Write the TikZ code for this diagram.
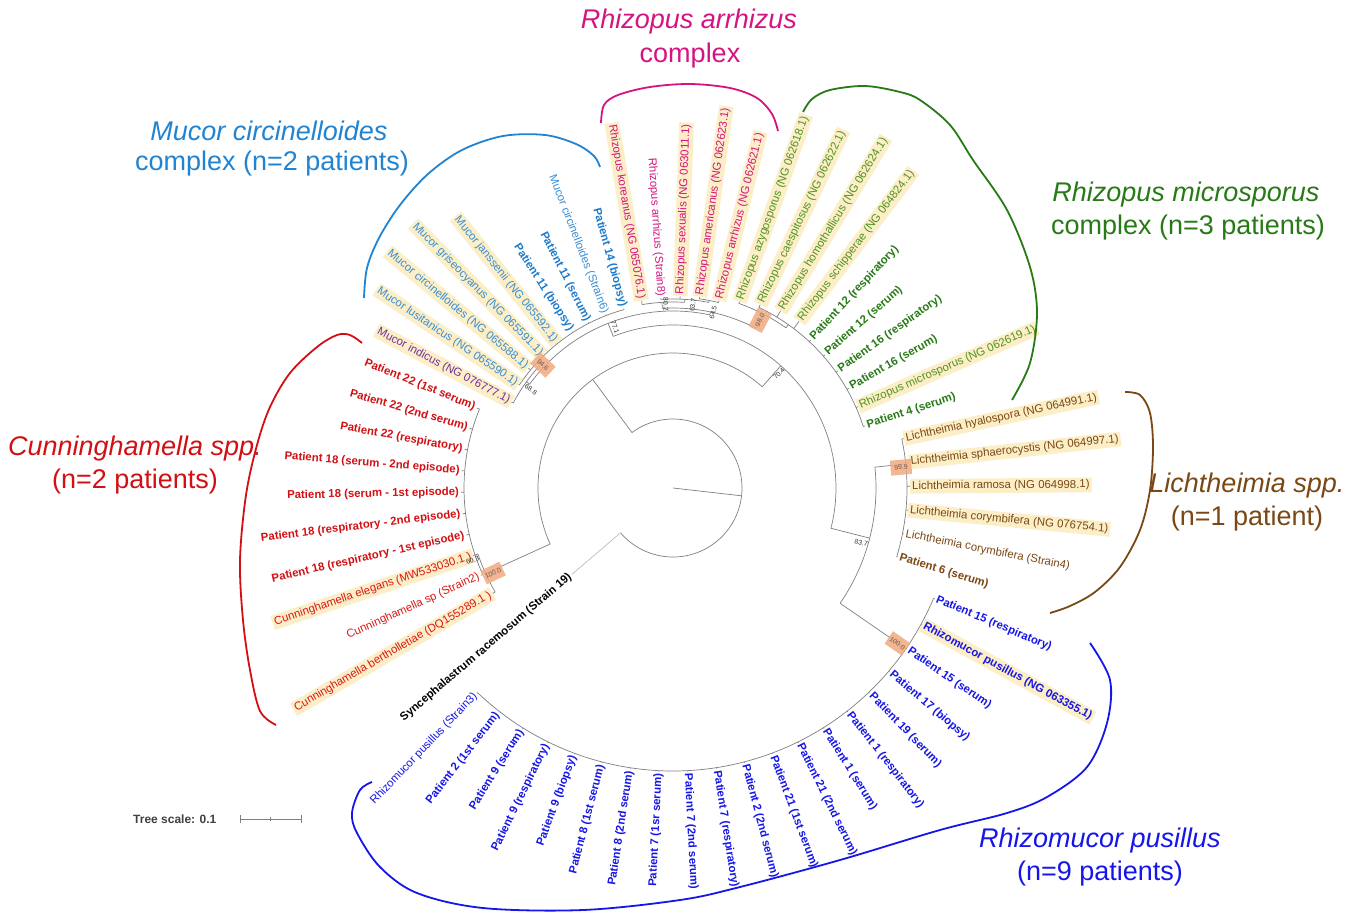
\documentclass[tikz,border=0pt]{standalone}
\usepackage{fontspec}
\setmainfont{Liberation Sans}
\definecolor{tr}{RGB}{128,128,128}
\definecolor{trl}{RGB}{190,190,190}
\definecolor{hlc}{RGB}{252,238,198}
\definecolor{bsc}{RGB}{241,170,128}
\definecolor{bst}{RGB}{110,90,80}
\definecolor{cunc}{RGB}{218,24,24}
\definecolor{cunb}{RGB}{210,16,20}
\definecolor{mucc}{RGB}{32,132,210}
\definecolor{mucsp}{RGB}{56,142,212}
\definecolor{mucpat}{RGB}{28,122,204}
\definecolor{mindc}{RGB}{112,48,160}
\definecolor{rarc}{RGB}{212,20,128}
\definecolor{rmsp}{RGB}{80,146,36}
\definecolor{rmpat}{RGB}{40,122,22}
\definecolor{licc}{RGB}{122,72,20}
\definecolor{rzc}{RGB}{22,22,232}
\tikzset{
  br/.style={draw=tr, line width=0.7pt},
  brl/.style={draw=trl, line width=0.7pt},
  lab/.style={font=\fontsize{11.4}{13}\selectfont, inner xsep=2pt, inner ysep=2pt},
  bfl/.style={font=\fontsize{11.4}{13}\selectfont\bfseries},
  hl/.style={fill=hlc},
  cun/.style={text=cunc},
  cunB/.style={text=cunb, bfl},
  muc/.style={text=mucsp},
  mucP/.style={text=mucpat, bfl},
  mind/.style={text=mindc},
  rar/.style={text=rarc},
  rms/.style={text=rmsp},
  rmP/.style={text=rmpat, bfl},
  lic/.style={text=licc},
  licP/.style={text=licc, bfl},
  rz/.style={text=rzc},
  rzP/.style={text=rzc, bfl},
  syn/.style={text=black, bfl},
  bsv/.style={font=\fontsize{6.8}{7}\selectfont, text=black!80, inner sep=0.5pt},
  bsb/.style={fill=bsc, fill opacity=0.85, text opacity=1, text=bst, minimum width=21pt, minimum height=15pt, inner sep=0pt, font=\fontsize{6.8}{7}\selectfont},
  cl/.style={font=\fontsize{27}{33}\selectfont, inner sep=0pt},
  cli/.style={font=\fontsize{27}{33}\selectfont\itshape, inner sep=0pt},
  brk/.style={line width=1.8pt, smooth, tension=0.55},
}
\newcommand\myrotfor[1]{%
  \pgfmathsetmacro\mycos{cos(#1)}%
  \ifdim\mycos pt<0pt \pgfmathsetmacro\myrot{#1+180}\def\myanc{east}%
  \else \pgfmathsetmacro\myrot{#1}\def\myanc{west}\fi}
\newcommand\myleaf[6]{%
  \pgfmathsetmacro\myang{210.3-5.83*#1}%
  \coordinate (P#1) at (\myang:#2);
  \coordinate (T#1) at (\myang:#3);
  \draw[#4] (P#1) -- (T#1);
  \myrotfor{\myang}%
  \node[lab,#5,rotate=\myrot,anchor=\myanc] (L#1) at (T#1) {#6};
}
\newcommand\iarc[3]{\draw[br] (#1:#3) arc[start angle=#1, end angle=#2, radius=#3pt];}
\newcommand\irad[4]{\coordinate (#1a) at (#2:#3); \coordinate (#1) at (#2:#4); \draw[br] (#1a) -- (#1);}
\newcommand\bsval[4]{\myrotfor{#3}\node[bsv,rotate=\myrot] (V#1) at (#3:#4) {#2};}
\newcommand\bsbox[4]{\myrotfor{#3}\node[bsb,rotate=\myrot] (B#1) at (#3:#4) {#2};}
\begin{document}
\begin{tikzpicture}[x=1pt,y=-1pt]
\useasboundingbox (0,0) rectangle (1361,914);
\fill[white] (0,0) rectangle (1361,914);
\begin{scope}[shift={(673,488)}, y=1pt]
\coordinate (O) at (0,0);
\coordinate (R0) at (-6.5:69);
\draw[br] (O) -- (R0);
\iarc{126.5}{-139.5}{69}
\irad{N1}{126.5}{69}{135}
\iarc{204.5}{48.6}{135}
\irad{C100}{204.5}{135}{206}
\iarc{210.3}{198.7}{206}
\irad{C60}{198.7}{206}{209}
\iarc{204.47}{157.83}{209}
\irad{N70}{48.6}{135}{163}
\iarc{111.5}{-14.3}{163}
\irad{N77}{111.5}{163}{177}
\iarc{144.1}{78}{177}
\irad{M68}{144.1}{177}{181}
\iarc{152}{136.6}{181}
\irad{M94}{136.6}{181}{185}
\iarc{146.17}{105.36}{185}
\irad{RH}{78}{177}{180}
\iarc{93.4}{62.6}{180}
\irad{R80}{93.4}{180}{186}
\iarc{99.53}{86.4}{186}
\irad{R63}{86.4}{186}{189}
\iarc{93.7}{79.1}{189}
\irad{R64}{79.1}{189}{191}
\iarc{82.04}{76.21}{191}
\irad{R98}{62.6}{180}{196}
\iarc{70.38}{54.8}{196}
\irad{RM}{54.8}{196}{200}
\iarc{64.55}{17.91}{200}
\irad{N83}{-14.3}{163}{203}
\iarc{5.9}{-34.6}{203}
\irad{L99}{5.9}{203}{234}
\iarc{12.08}{-17.07}{234}
\irad{R100}{-34.6}{203}{283}
\iarc{-22.9}{-133.67}{283}
% leaves
\myleaf{0}{206}{209}{br}{cun,hl}{Cunninghamella bertholletiae (DQ155289.1 )}
\myleaf{1}{209}{211}{br}{cun}{Cunninghamella sp (Strain2)}
\myleaf{2}{209}{211}{br}{cun,hl}{Cunninghamella elegans (MW533030.1 )}
\myleaf{3}{209}{212}{br}{cunB}{Patient 18 (respiratory - 1st episode)}
\myleaf{4}{209}{212}{br}{cunB}{Patient 18 (respiratory - 2nd episode)}
\myleaf{5}{209}{212}{br}{cunB}{Patient 18 (serum - 1st episode)}
\myleaf{6}{209}{212}{br}{cunB}{Patient 18 (serum - 2nd episode)}
\myleaf{7}{209}{212}{br}{cunB}{Patient 22 (respiratory)}
\myleaf{8}{209}{212}{br}{cunB}{Patient 22 (2nd serum)}
\myleaf{9}{209}{212}{br}{cunB}{Patient 22 (1st serum)}
\myleaf{10}{181}{183}{br}{mind,hl}{Mucor indicus (NG 076777.1)}
\myleaf{11}{185}{186}{br}{muc,hl}{Mucor lusitanicus (NG 065590.1)}
\myleaf{12}{185}{188}{br}{muc,hl}{Mucor circinelloides (NG 065588.1)}
\myleaf{13}{185}{186}{br}{muc,hl}{Mucor griseocyanus (NG 065591.1)}
\myleaf{14}{185}{186}{br}{muc,hl}{Mucor janssenii (NG 065592.1)}
\myleaf{15}{185}{186}{br}{mucP}{Patient 11 (biopsy)}
\myleaf{16}{185}{186}{br}{mucP}{Patient 11 (serum)}
\myleaf{17}{185}{186}{br}{muc}{Mucor circinelloides (Strain6)}
\myleaf{18}{185}{186}{br}{mucP}{Patient 14 (biopsy)}
\myleaf{19}{186}{190}{br}{rar,hl}{Rhizopus koreanus (NG 065076.1)}
\myleaf{20}{189}{190}{br}{rar}{Rhizopus arrhizus (Strain8)}
\myleaf{21}{189}{192}{br}{rar,hl}{Rhizopus sexualis (NG 063011.1)}
\myleaf{22}{191}{193}{br}{rar,hl}{Rhizopus americanus (NG 062623.1)}
\myleaf{23}{191}{193}{br}{rar,hl}{Rhizopus arrhizus (NG 062621.1)}
\myleaf{24}{196}{198}{br}{rms,hl}{Rhizopus azygosporus (NG 062618.1)}
\myleaf{25}{200}{203}{br}{rms,hl}{Rhizopus caespitosus (NG 062622.1)}
\myleaf{26}{200}{207}{br}{rms,hl}{Rhizopus homothallicus (NG 062624.1)}
\myleaf{27}{200}{209}{br}{rms,hl}{Rhizopus schipperae (NG 064824.1)}
\myleaf{28}{200}{202}{br}{rmP}{Patient 12 (respiratory)}
\myleaf{29}{200}{202}{br}{rmP}{Patient 12 (serum)}
\myleaf{30}{200}{202}{br}{rmP}{Patient 16 (respiratory)}
\myleaf{31}{200}{202}{br}{rmP}{Patient 16 (serum)}
\myleaf{32}{200}{202}{br}{rms,hl}{Rhizopus microsporus (NG 062619.1)}
\myleaf{33}{200}{202}{br}{rmP}{Patient 4 (serum)}
\myleaf{34}{234}{236}{br}{lic,hl}{Lichtheimia hyalospora (NG 064991.1)}
\myleaf{35}{234}{237}{br}{lic,hl}{Lichtheimia sphaerocystis (NG 064997.1)}
\myleaf{36}{234}{237}{br}{lic,hl}{Lichtheimia ramosa (NG 064998.1)}
\myleaf{37}{234}{236}{br}{lic,hl}{Lichtheimia corymbifera (NG 076754.1)}
\myleaf{38}{234}{235}{br}{lic}{Lichtheimia corymbifera (Strain4)}
\myleaf{39}{234}{235}{br}{licP}{Patient 6 (serum)}
\myleaf{40}{283}{284}{br}{rzP}{Patient 15 (respiratory)}
\myleaf{41}{283}{284}{br}{rzP,hl}{Rhizomucor pusillus (NG 063355.1)}
\myleaf{42}{283}{284}{br}{rzP}{Patient 15 (serum)}
\myleaf{43}{283}{284}{br}{rzP}{Patient 17 (biopsy)}
\myleaf{44}{283}{284}{br}{rzP}{Patient 19 (serum)}
\myleaf{45}{283}{284}{br}{rzP}{Patient 1 (respiratory)}
\myleaf{46}{283}{284}{br}{rzP}{Patient 1 (serum)}
\myleaf{47}{283}{284}{br}{rzP}{Patient 21 (2nd serum)}
\myleaf{48}{283}{284}{br}{rzP}{Patient 21 (1st serum)}
\myleaf{49}{283}{284}{br}{rzP}{Patient 2 (2nd serum)}
\myleaf{50}{283}{284}{br}{rzP}{Patient 7 (respiratory)}
\myleaf{51}{283}{284}{br}{rzP}{Patient 7 (2nd serum)}
\myleaf{52}{283}{284}{br}{rzP}{Patient 7 (1sr serum)}
\myleaf{53}{283}{284}{br}{rzP}{Patient 8 (2nd serum)}
\myleaf{54}{283}{284}{br}{rzP}{Patient 8 (1st serum)}
\myleaf{55}{283}{284}{br}{rzP}{Patient 9 (biopsy)}
\myleaf{56}{283}{284}{br}{rzP}{Patient 9 (respiratory)}
\myleaf{57}{283}{284}{br}{rzP}{Patient 9 (serum)}
\myleaf{58}{283}{284}{br}{rzP}{Patient 2 (1st serum)}
\myleaf{59}{283}{284}{br}{rz}{Rhizomucor pusillus (Strain3)}
\myleaf{60}{69}{133}{brl}{syn}{Syncephalastrum racemosum (Strain 19)}
% support values
\bsval{a}{77.1}{109.8}{171}
\bsval{b}{80.2}{92.2}{184}
\bsval{c}{63.7}{83.8}{184}
\bsval{d}{64.5}{77.1}{180}
\bsval{e}{70.4}{47.2}{156}
\bsval{f}{68.8}{145.3}{173}
\bsval{g}{60.3}{199.8}{213}
\bsval{h}{83.7}{-16.2}{196}
\bsbox{a}{94.6}{136.6}{179}
\bsbox{b}{98.0}{62.6}{189}
\bsbox{c}{99.9}{5.2}{229}
\bsbox{d}{100.0}{205.3}{199}
\bsbox{e}{100.0}{-34.7}{273}
\end{scope}
% clade brackets
\draw[brk, mucc] plot coordinates {(364,298) (367,268) (379,238) (400,205) (428,174) (462,150) (503,136) (545,135) (576,144) (594,156) (600,167)};
\draw[brk, rarc] plot coordinates {(601,123) (604,105) (618,95) (650,87) (690,84) (730,88) (757,98) (772,114) (778,131)};
\draw[brk, rmpat] plot coordinates {(803,112) (812,99) (830,90) (865,86) (900,92) (920,100) (950,125) (973,160) (1007,210) (1030,267) (1037,313) (1030,363) (1012,400)};
\draw[brk, licc] plot coordinates {(1125,392) (1140,395) (1150,413) (1153,447) (1150,490) (1140,530) (1120,567) (1095,592) (1070,606) (1050,613)};
\draw[brk, rzc] plot coordinates {(1090,643) (1110,680) (1107,723) (1087,767) (1047,797) (1007,813) (940,830) (840,860) (740,887) (680,900) (583,910) (483,908) (417,893) (380,867) (357,833) (352,813) (360,790) (372,782)};
\draw[brk, cunb] plot coordinates {(362,343) (350,335) (337,335) (317,347) (290,373) (270,407) (257,445) (246,495) (240,560) (243,620) (250,670) (260,711) (276,725)};
% clade labels
\node[cli, text=mucc] (cm1) at (269,131) {Mucor circinelloides};
\node[cl, text=mucc] (cm2) at (272,164) {complex (n=2 patients)};
\node[cli, text=rarc] (ra1) at (689,22) {Rhizopus arrhizus};
\node[cl, text=rarc] (ra2) at (690,56) {complex};
\node[cli, text=rmpat] (rm1) at (1186,195) {Rhizopus microsporus};
\node[cl, text=rmpat] (rm2) at (1188,228) {complex (n=3 patients)};
\node[cli, text=licc] (li1) at (1247,486) {Lichtheimia spp.};
\node[cl, text=licc] (li2) at (1247,519) {(n=1 patient)};
\node[cli, text=cunb] (cu1) at (135,449) {Cunninghamella spp.};
\node[cl, text=cunb] (cu2) at (135,482) {(n=2 patients)};
\node[cli, text=rzc] (rz1) at (1100,841) {Rhizomucor pusillus};
\node[cl, text=rzc] (rz2) at (1100,874) {(n=9 patients)};
% tree scale
\node[anchor=west, inner sep=0pt, font=\fontsize{12}{13}\selectfont\bfseries, text=black!75] (ts) at (133,819) {Tree scale: 0.1};
\coordinate (sb1) at (240,819);
\coordinate (sb2) at (301,819);
\draw[tr, line width=0.8pt] (sb1) -- (sb2);
\draw[tr, line width=0.8pt] (240,815) -- (240,823) (301,815) -- (301,823) (270.5,817) -- (270.5,821);
\end{tikzpicture}
\end{document}
